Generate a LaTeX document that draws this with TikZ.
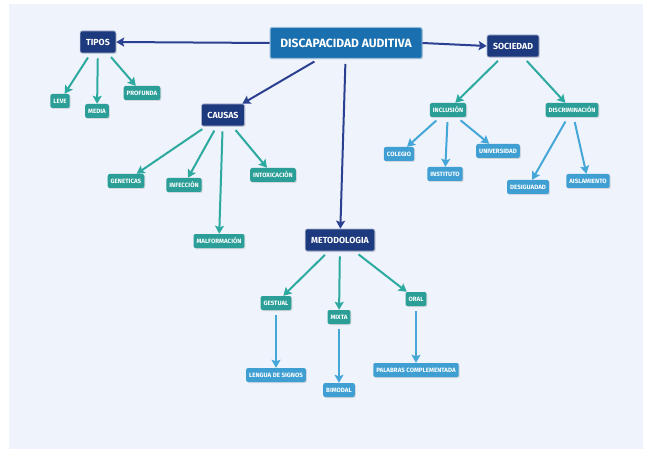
\documentclass[tikz,border=0pt]{standalone}
\usepackage{fontspec}
\setmainfont{Fira Sans}
\usetikzlibrary{arrows.meta}
\usetikzlibrary{shadows}
\definecolor{panel}{HTML}{EFF3FC}
\definecolor{mainblue}{HTML}{1A6FAE}
\definecolor{navy}{HTML}{1E3A7E}
\definecolor{teal}{HTML}{2A9E97}
\definecolor{skyblue}{HTML}{3F9FD3}
\definecolor{navyline}{HTML}{2B4090}
\definecolor{tealline}{HTML}{2DAA9F}
\definecolor{skyline}{HTML}{45A6D8}
\begin{document}
\begin{tikzpicture} [
          x=1pt, y=-1pt,
          box/.style = {rounded corners=2pt, text=white, inner ysep=0pt,
            drop shadow={opacity=0.25, shadow xshift=1pt, shadow yshift=-1pt}},
          main/.style = {box, fill=mainblue, draw=mainblue!45!white, line width=1pt,
            minimum width=152pt, minimum height=31pt, font=\bfseries\fontsize{12}{14}\selectfont},
          topic/.style = {box, fill=navy, draw=navy!40!white, line width=0.6pt, inner xsep=6pt,
            minimum height=22pt, font=\bfseries\fontsize{8.8}{10}\selectfont},
          branch/.style = {box, fill=teal, inner xsep=3pt, minimum height=14pt,
            font=\bfseries\fontsize{6.2}{7}\selectfont},
          leaf/.style = {box, fill=skyblue, inner xsep=3pt, minimum height=14pt,
            font=\bfseries\fontsize{6.2}{7}\selectfont},
          link/.style = {line width=2pt, shorten <=5pt, -{Stealth[length=8pt, width=9pt, inset=1.5pt]}},
          navy link/.style = {link, draw=navyline, fill=navyline},
          teal link/.style = {link, draw=tealline, fill=tealline},
          sky link/.style = {link, draw=skyline, fill=skyline}
          ]
          \useasboundingbox (0,0) rectangle (645,449);
          \fill[panel] (9,4) rectangle (643,449);

          \node[main] (main) at (346,43) {DISCAPACIDAD AUDITIVA};
          \node[topic] (tipos) at (98,42) {TIPOS};
          \node[topic] (sociedad) at (513,46) {SOCIEDAD};
          \node[topic] (causas) at (223,115) {CAUSAS};
          \node[topic] (meto) at (340,240) {METODOLOGIA};

          \node[branch] (leve) at (60,101) {LEVE};
          \node[branch] (media) at (97,111) {MEDIA};
          \node[branch] (profunda) at (142,93) {PROFUNDA};

          \node[branch] (geneticas) at (126,181) {GENETICAS};
          \node[branch] (infeccion) at (184,185) {INFECCIÓN};
          \node[branch] (intox) at (273,175) {INTOXICACIÓN};
          \node[branch] (malform) at (219,241) {MALFORMACIÓN};

          \node[branch] (gestual) at (276,303) {GESTUAL};
          \node[branch] (mixta) at (339,317) {MIXTA};
          \node[branch] (oral) at (416,299) {ORAL};
          \node[leaf] (lengua) at (276,375) {LENGUA DE SIGNOS};
          \node[leaf] (bimodal) at (339,390) {BIMODAL};
          \node[leaf] (palabras) at (416,370) {PALABRAS COMPLEMENTADA};

          \node[branch] (inclusion) at (448,110) {INCLUSIÓN};
          \node[branch] (discrim) at (572,110) {DISCRIMINACIÓN};
          \node[leaf] (colegio) at (399,154) {COLEGIO};
          \node[leaf] (instituto) at (445,174) {INSTITUTO};
          \node[leaf] (univ) at (498,151) {UNIVERSIDAD};
          \node[leaf] (desig) at (528,187) {DESIGUADAD};
          \node[leaf] (aisla) at (588,181) {AISLAMIENTO};

          \draw[navy link, shorten <=0pt] (main.west) -- (tipos.east);
          \draw[navy link, shorten <=0pt] (main.east) -- (sociedad.west);
          \draw[navy link] (main) -- (causas);
          \draw[navy link] (main) -- (meto);

          \draw[teal link] (tipos) -- (leve);
          \draw[teal link] (tipos) -- (media);
          \draw[teal link] (tipos) -- (profunda);
          \draw[teal link] (causas) -- (geneticas);
          \draw[teal link] (causas) -- (infeccion);
          \draw[teal link] (causas) -- (malform);
          \draw[teal link] (causas) -- (intox);
          \draw[teal link] (meto) -- (gestual);
          \draw[teal link] (meto) -- (mixta);
          \draw[teal link] (meto) -- (oral);
          \draw[teal link] (sociedad) -- (inclusion);
          \draw[teal link] (sociedad) -- (discrim);

          \draw[sky link] (gestual) -- (lengua);
          \draw[sky link] (mixta) -- (bimodal);
          \draw[sky link] (oral) -- (palabras);
          \draw[sky link] (inclusion) -- (colegio);
          \draw[sky link] (inclusion) -- (instituto);
          \draw[sky link] (inclusion) -- (univ);
          \draw[sky link] (discrim) -- (desig);
          \draw[sky link] (discrim) -- (aisla);
        \end{tikzpicture}
\end{document}
